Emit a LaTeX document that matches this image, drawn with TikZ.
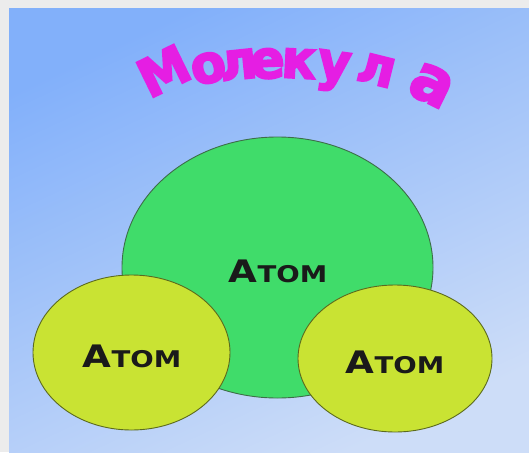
\documentclass[tikz,border=0pt]{standalone}
\usepackage{fontspec}
\setmainfont{DejaVu Sans}
\newfontfamily\titlefont{DejaVu Sans}[UprightFont=*, BoldFont=* Bold, BoldFeatures={FakeBold=4}]
\usetikzlibrary{shapes.geometric}
\definecolor{frame}{HTML}{ECECEC}
\definecolor{bgtop}{HTML}{82B0FA}
\definecolor{bgbot}{HTML}{CDDDF8}
\definecolor{molgreen}{HTML}{40DC6A}
\definecolor{atomyellow}{HTML}{C9E333}
\definecolor{greenedge}{HTML}{3D6E48}
\definecolor{yellowedge}{HTML}{5C6A1E}
\definecolor{titlemag}{HTML}{E51EE3}
\definecolor{textdark}{HTML}{1A1A1A}
\tikzset{
  bigatom/.style={ellipse, draw=greenedge, line width=0.9pt, fill=molgreen, inner sep=0pt},
  smallatom/.style={ellipse, draw=yellowedge, line width=0.9pt, fill=atomyellow, inner sep=0pt},
  atomlabel/.style={anchor=base, inner sep=0pt, text=textdark, font=\bfseries},
  letter/.style={anchor=base, inner sep=0pt, text=titlemag, font=\titlefont\bfseries\fontsize{43}{43}\selectfont}
}
\newcommand{\atomword}{\scalebox{1.2}[1]{\fontsize{31}{31}\selectfont А\fontsize{23}{23}\selectfont ТОМ}}
\newcommand{\tl}[1]{\scalebox{1.18}[1.22]{#1}}
\begin{document}
\begin{tikzpicture}[x=1pt,y=-1pt]
\useasboundingbox (0,0) rectangle (529,452);
\fill[frame] (0,0) rectangle (529,452);
\shade[top color=bgtop, bottom color=bgbot, shading angle=25] (9,9) rectangle (529,452);
% title letters
\node[letter, rotate=26] (t1) at (172,88) {\tl{М}};
\node[letter, rotate=14] (t2) at (212,82) {\tl{о}};
\node[letter, rotate=6] (t3) at (240,79) {\tl{л}};
\node[letter, rotate=2] (t4) at (268,78) {\tl{е}};
\node[letter, rotate=-3] (t5) at (298,78) {\tl{к}};
\node[letter, rotate=-8] (t6) at (332,80) {\tl{у}};
\node[letter, rotate=-14] (t7) at (373,84) {\tl{л}};
\node[letter, rotate=-26, font=\titlefont\bfseries\fontsize{52}{52}\selectfont] (t8) at (424,101) {\tl{а}};
% atoms
\node[bigatom, minimum width=311, minimum height=261] (big) at (277.5,267.5) {};
\node[smallatom, minimum width=197, minimum height=155] (left) at (131.5,352.5) {};
\node[smallatom, minimum width=194, minimum height=147] (right) at (395,358.5) {};
\node[atomlabel] (bigtext) at (278,282) {\atomword};
\node[atomlabel] (lefttext) at (132,367) {\atomword};
\node[atomlabel] (righttext) at (395,373) {\atomword};
\end{tikzpicture}
\end{document}
